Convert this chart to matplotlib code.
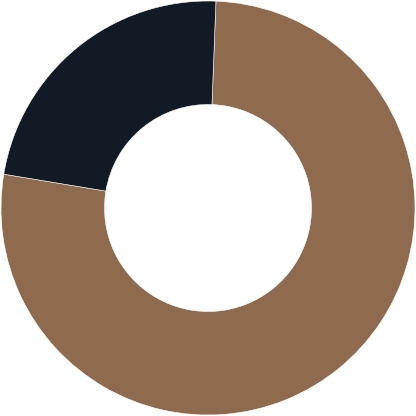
import matplotlib
matplotlib.use("Agg")
import matplotlib.pyplot as plt

labels = ["A", "B"]
values = [77, 23]
colors = ["#8e6b4f", "#121a26"]

fig = plt.figure(figsize=(4.16, 4.16), dpi=100)
ax = fig.add_axes([0, 0, 1, 1])
ax.pie(values, colors=colors, startangle=87.8, counterclock=False,
       radius=1.0, wedgeprops=dict(width=0.5, edgecolor="white", linewidth=0.4))
lim = 208 / 207
ax.set_xlim(-lim, lim)
ax.set_ylim(-lim, lim)
ax.set_aspect("equal")
ax.axis("off")
fig.savefig("out.png", dpi=100)
